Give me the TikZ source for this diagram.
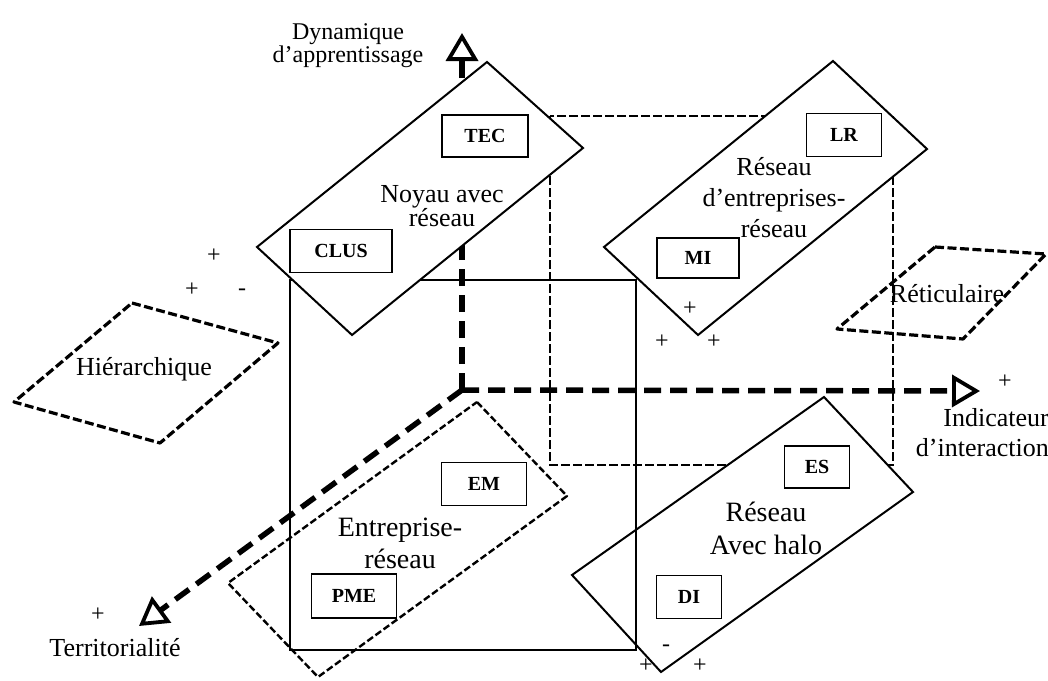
\documentclass[tikz,border=0pt]{standalone}
\usepackage{fontspec}
\setmainfont{Liberation Serif}
\usetikzlibrary{arrows.meta}
\newcommand\tightlines{\lineskiplimit=-100pt\relax}

\begin{document}
\begin{tikzpicture}[x=1pt,y=-1pt,
  axisline/.style={line width=5.5pt, dash pattern=on 17pt off 9pt,
    -{Triangle[open,length=28pt,width=32pt,line width=3.8pt]}},
  backface/.style={draw, line width=2.4pt, dash pattern=on 9pt off 3pt},
  frontface/.style={draw, line width=1.4pt},
  firmzone/.style={draw, line width=2pt, fill=white, line join=miter},
  loosezone/.style={draw, line width=3.2pt, dash pattern=on 9pt off 3.5pt, line join=round},
  softzone/.style={draw, line width=2.4pt, dash pattern=on 7pt off 3pt, line join=round},
  actor/.style={draw, line width=1.4pt, fill=white, inner sep=0pt,
    font=\fontsize{20}{22}\selectfont\bfseries},
  zonetext/.style={align=center, inner sep=0pt},
  sign/.style={inner sep=0pt, font=\fontsize{24}{24}\selectfont},
]
\useasboundingbox (0,0) rectangle (1048,680);

% axis origin and tips
\coordinate (O) at (462,390);
\coordinate (Ytip) at (462,33);
\coordinate (Xtip) at (980,391);
\coordinate (Ztip) at (139,626);

% back face of the cube
\draw[backface] (550,116) rectangle (893,465);

% the three axes
\draw[axisline] (O) -- (Ytip);
\draw[axisline] (O) -- (Xtip);
\draw[axisline] (O) -- (Ztip);

% network with halo
\draw[firmzone] (824,397) -- (913,492) -- (661,672) -- (572,575) -- cycle;

% front face of the cube
\draw[frontface] (290,280) rectangle (636,650);

% core with network, network of network firms
\draw[firmzone] (487,62) -- (583,148) -- (352,335) -- (257,247) -- cycle;
\draw[firmzone] (833,61) -- (927,149) -- (698,335) -- (604,247) -- cycle;

% network firm, hierarchical and reticular zones
\draw[softzone] (477,402) -- (567,496) -- (318,677) -- (228,583) -- cycle;
\draw[loosezone] (132,303) -- (278,343) -- (160,443) -- (14,402) -- cycle;
\draw[loosezone] (935,247) -- (1046,254) -- (963,339) -- (837,329) -- cycle;

% actors
\node[actor, minimum width=86pt, minimum height=42pt] (tec) at (485,136) {TEC};
\node[actor, minimum width=102pt, minimum height=43pt] (clus) at (341,251) {CLUS};
\node[actor, minimum width=75pt, minimum height=43pt] (lr) at (844,135) {LR};
\node[actor, minimum width=82pt, minimum height=40pt] (mi) at (698,258) {MI};
\node[actor, minimum width=65pt, minimum height=42pt] (es) at (817,467) {ES};
\node[actor, minimum width=65pt, minimum height=43pt] (di) at (689,597) {DI};
\node[actor, minimum width=85pt, minimum height=43pt] (em) at (484,484) {EM};
\node[actor, minimum width=85pt, minimum height=44pt] (pme) at (354,596) {PME};

% zone labels
\node[zonetext, font=\fontsize{26}{24}\selectfont\tightlines] (noyau) at (442,206) {Noyau avec\\réseau};
\node[zonetext, font=\fontsize{26}{31}\selectfont\tightlines] (resent) at (774,198) {Réseau\\d’entreprises-\\réseau};
\node[zonetext, font=\fontsize{28}{33}\selectfont\tightlines] (halo) at (766,528) {Réseau\\Avec halo};
\node[zonetext, font=\fontsize{28}{32}\selectfont\tightlines] (entr) at (400,543) {Entreprise-\\réseau};
\node[anchor=base, inner sep=0pt, font=\fontsize{26}{28}\selectfont] (hier) at (144,375) {Hiérarchique};
\node[anchor=base, inner sep=0pt, font=\fontsize{26}{28}\selectfont] (retic) at (947,302) {Réticulaire};

% axis labels
\node[zonetext, font=\fontsize{24}{23}\selectfont\tightlines] (dyn) at (348,46) {Dynamique\\d’apprentissage};
\node[zonetext, align=right, anchor=east, font=\fontsize{26}{30}\selectfont\tightlines] (ind) at (1049,433) {Indicateur\\d’interaction};
\node[anchor=base, inner sep=0pt, font=\fontsize{26}{28}\selectfont] (terr) at (115,656) {Territorialité};

% signs
\node[sign] (s1) at (214,256) {+};
\node[sign] (s2) at (192,290) {+};
\node[sign] (s3) at (242,292) {-};
\node[sign] (s4) at (690,309) {+};
\node[sign] (s5) at (662,342) {+};
\node[sign] (s6) at (714,342) {+};
\node[sign] (s7) at (1005,382) {+};
\node[sign] (s8) at (98,615) {+};
\node[sign] (s9) at (666,648) {-};
\node[sign] (s10) at (646,666) {+};
\node[sign] (s11) at (700,666) {+};
\end{tikzpicture}
\end{document}
